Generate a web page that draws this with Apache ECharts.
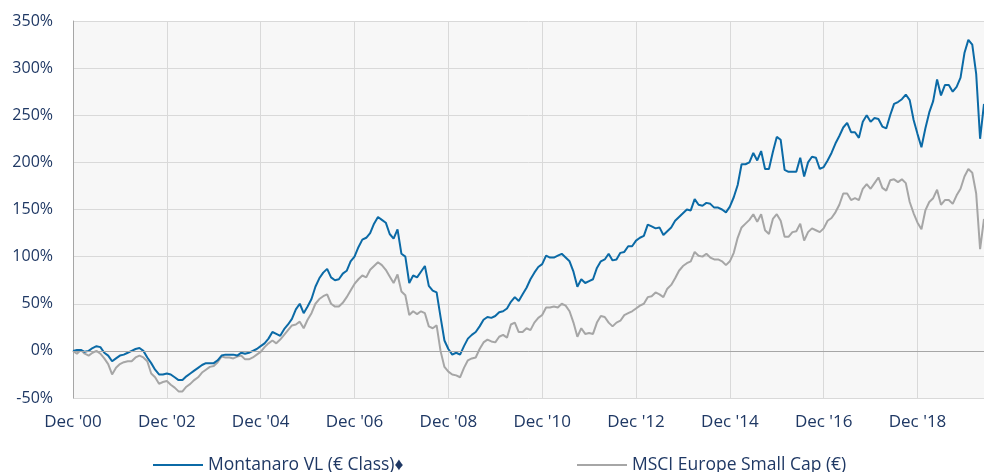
<!DOCTYPE html>
<html lang="en">

<head>
    <meta charset="UTF-8">
    <title>Montanaro VL vs MSCI Europe Small Cap</title>
    <style>
        html, body { margin: 0; padding: 0; background: #ffffff; }
        #chart { width: 984px; height: 472px; }
    </style>
</head>

<body>
    <div id="chart"></div>
</body>
<script src="https://cdn.jsdelivr.net/npm/echarts@6/dist/echarts.min.js"></script>
<script>
    // cumulative performance, monthly from Dec 2000 (%)
    var montanaro = [
        0, 1, 1, -1, 0, 3, 5, 4, -2, -5,
        -11, -8, -5, -4, -2, 0, 2, 3, 0, -7,
        -13, -20, -25, -25, -24, -25, -28, -31, -31, -27,
        -24, -21, -18, -15, -13, -13, -13, -10, -5, -4,
        -4, -4, -5, -2, -3, -2, 0, 2, 5, 8,
        13, 20, 18, 16, 23, 28, 34, 44, 50, 40,
        47, 55, 68, 77, 83, 87, 78, 75, 76, 82,
        85, 95, 100, 110, 118, 120, 125, 135, 142, 139,
        136, 124, 119, 129, 103, 100, 72, 80, 78, 84,
        90, 69, 64, 62, 36, 11, 2, -4, -2, -4,
        5, 13, 17, 20, 26, 33, 36, 35, 37, 41,
        42, 45, 52, 57, 53, 60, 67, 76, 83, 89,
        92, 101, 99, 99, 101, 103, 99, 95, 84, 68,
        76, 72, 74, 76, 88, 95, 97, 103, 96, 97,
        104, 105, 111, 111, 117, 120, 122, 134, 132, 130,
        131, 123, 127, 131, 138, 142, 146, 150, 149, 161,
        155, 154, 157, 156, 152, 152, 150, 147, 153, 163,
        176, 198, 198, 200, 210, 202, 212, 193, 193, 211,
        227, 224, 192, 190, 190, 190, 205, 185, 200, 206,
        205, 193, 195, 202, 210, 220, 228, 237, 242, 232,
        232, 226, 243, 250, 243, 247, 246, 238, 236, 250,
        262, 264, 267, 272, 266, 245, 230, 216, 236, 253,
        265, 288, 271, 282, 282, 275, 280, 290, 316, 330,
        325, 294, 225, 262
    ];
    var msci = [
        0, -3, 1, -3, -5, -2, 0, -3, -8, -14,
        -25, -18, -14, -12, -11, -11, -7, -5, -7, -11,
        -24, -28, -35, -33, -32, -36, -39, -43, -43, -38,
        -35, -31, -28, -23, -20, -17, -16, -12, -6, -7,
        -7, -8, -6, -5, -9, -9, -7, -4, -1, 4,
        8, 11, 8, 12, 17, 22, 27, 28, 31, 24,
        33, 40, 50, 55, 58, 60, 50, 47, 47, 51,
        57, 64, 71, 76, 80, 78, 86, 90, 94, 91,
        86, 79, 72, 81, 63, 59, 38, 42, 39, 42,
        40, 26, 24, 27, 0, -17, -22, -25, -26, -28,
        -18, -10, -8, -7, 2, 9, 12, 10, 9, 15,
        17, 14, 28, 30, 20, 20, 24, 22, 30, 35,
        38, 46, 46, 47, 46, 50, 48, 42, 30, 15,
        24, 18, 19, 18, 30, 37, 36, 30, 26, 30,
        32, 38, 40, 42, 45, 48, 50, 57, 58, 62,
        60, 57, 66, 70, 77, 85, 90, 93, 95, 105,
        101, 100, 103, 99, 97, 97, 95, 91, 95, 104,
        120, 131, 135, 139, 145, 137, 145, 128, 124, 140,
        145, 138, 121, 121, 126, 127, 135, 117, 126, 130,
        128, 126, 130, 138, 141, 147, 155, 167, 167, 160,
        162, 160, 172, 177, 172, 178, 184, 173, 170, 181,
        182, 179, 182, 178, 158, 146, 136, 129, 149, 158,
        162, 171, 155, 160, 160, 156, 165, 172, 185, 193,
        189, 167, 108, 140
    ];
    var seriesNames = ['Montanaro VL (€ Class)♦', 'MSCI Europe Small Cap (€)'];
    var monthNames = ['Jan', 'Feb', 'Mar', 'Apr', 'May', 'Jun', 'Jul', 'Aug', 'Sep', 'Oct', 'Nov', 'Dec'];

    // month labels, starting Dec '00
    var months = [];
    for (var i = 0; i < montanaro.length; i++) {
        var k = 11 + i;
        var yr = (Math.floor(k / 12) % 100);
        months.push(monthNames[k % 12] + " '" + (yr < 10 ? '0' + yr : yr));
    }

    var navy = '#1f3864';
    var chart = echarts.init(document.getElementById('chart'));
    chart.setOption({
        animation: false,
        textStyle: { fontFamily: 'Open Sans' },
        grid: {
            left: 73, right: -2, top: 21, bottom: 74,
            show: true, backgroundColor: '#f7f7f7', borderWidth: 0
        },
        legend: [{
            data: [seriesNames[0]],
            left: 148, top: 451,
            icon: 'rect', itemWidth: 50, itemHeight: 2,
            textStyle: { color: navy, fontSize: 17.5, fontFamily: 'Open Sans' }
        }, {
            data: [seriesNames[1]],
            left: 572, top: 451,
            icon: 'rect', itemWidth: 50, itemHeight: 2,
            textStyle: { color: navy, fontSize: 17.5, fontFamily: 'Open Sans' }
        }],
        xAxis: {
            type: 'category',
            data: months,
            boundaryGap: false,
            axisLine: { lineStyle: { color: '#d9d9d9' } },
            axisTick: { show: false },
            axisLabel: { interval: 23, color: navy, fontSize: 17, margin: 16 },
            splitLine: { show: true, interval: 23, lineStyle: { color: '#d9d9d9' } }
        },
        yAxis: {
            type: 'value',
            min: -50, max: 350, interval: 50,
            axisLine: { show: true, lineStyle: { color: '#a6a6a6' } },
            axisTick: { show: false },
            axisLabel: { formatter: '{value}%', color: navy, fontSize: 16, margin: 20 },
            splitLine: { lineStyle: { color: '#d9d9d9' } }
        },
        series: [{
            name: seriesNames[0],
            type: 'line',
            data: montanaro,
            showSymbol: false,
            z: 3,
            itemStyle: { color: '#0b6aa6' },
            lineStyle: { color: '#0b6aa6', width: 2 }
        }, {
            name: seriesNames[1],
            type: 'line',
            data: msci,
            showSymbol: false,
            z: 2,
            itemStyle: { color: '#a6a6a6' },
            lineStyle: { color: '#a6a6a6', width: 2 },
            markLine: {
                silent: true,
                symbol: 'none',
                label: { show: false },
                lineStyle: { color: '#a6a6a6', type: 'solid', width: 1 },
                data: [{ yAxis: 0 }]
            }
        }]
    });
</script>

</html>
